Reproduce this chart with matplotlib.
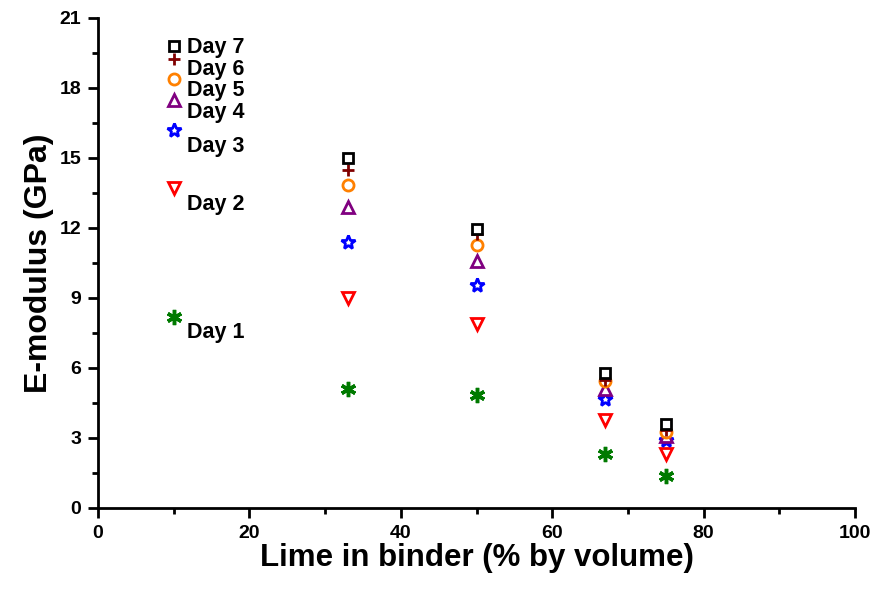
import matplotlib.pyplot as plt
from matplotlib.ticker import MultipleLocator

plt.rcParams['font.family'] = ['Liberation Sans Narrow', 'Liberation Sans', 'DejaVu Sans']
plt.rcParams['font.weight'] = 'bold'

# lime content of the binder, % by volume
lime = [10, 33, 50, 67, 75]

# E-modulus (GPa) per curing day
day1 = [8.2, 5.1, 4.85, 2.3, 1.35]
day2 = [13.7, 9.0, 7.9, 3.77, 2.3]
day3 = [16.2, 11.4, 9.56, 4.67, 2.9]
day4 = [17.5, 12.9, 10.6, 5.1, 3.1]
day5 = [18.4, 13.85, 11.27, 5.45, 3.25]
day6 = [19.25, 14.5, 11.75, 5.5, 3.35]
day7 = [19.8, 15.0, 11.96, 5.8, 3.6]

labels = ['Day 1', 'Day 2', 'Day 3', 'Day 4', 'Day 5', 'Day 6', 'Day 7']
label_y = [7.5, 13.0, 15.5, 16.95, 17.9, 18.8, 19.75]

series = [day1, day2, day3, day4, day5, day6, day7]
colors = ['#007a00', '#ff0000', '#0000ff', '#800080', '#ff8000', '#800000', '#000000']
markers = [(6, 2, 0), 'v', '*', '^', 'o', '+', 's']
sizes = [11, 9, 10, 9, 8, 9, 7]

fig = plt.figure(figsize=(8.8, 5.9), dpi=100)
ax = fig.add_axes([0.1114, 0.139, 0.8602, 0.8305])

for vals, c, m, s in zip(series, colors, markers, sizes):
    ax.plot(lime, vals, linestyle='none', marker=m, markersize=s,
            markerfacecolor='white' if m not in ['+', (6, 2, 0)] else c,
            markeredgecolor=c, markeredgewidth=2.5 if m == (6, 2, 0) else 2,
            clip_on=False)

for lab, y in zip(labels, label_y):
    ax.text(11.8, y, lab, fontsize=15.5, fontweight='bold',
            family=['Liberation Sans', 'DejaVu Sans'], va='center', ha='left')

ax.set_xlim(0, 100)
ax.set_ylim(0, 21)
ax.xaxis.set_major_locator(MultipleLocator(20))
ax.xaxis.set_minor_locator(MultipleLocator(10))
ax.yaxis.set_major_locator(MultipleLocator(3))
ax.yaxis.set_minor_locator(MultipleLocator(1.5))

for side in ['top', 'right']:
    ax.spines[side].set_visible(False)
for side in ['left', 'bottom']:
    ax.spines[side].set_linewidth(2)

ax.tick_params(which='major', direction='out', length=7, width=2, labelsize=14, pad=5)
ax.tick_params(which='minor', direction='out', length=4, width=2)

ax.set_xlabel('Lime in binder (% by volume)', fontsize=22.5, fontweight='bold',
              family=['Liberation Sans', 'DejaVu Sans'], labelpad=1)
ax.set_ylabel('E-modulus (GPa)', fontsize=23, fontweight='bold',
              family=['Liberation Sans', 'DejaVu Sans'], labelpad=4)

fig.savefig('out.png', dpi=100)
